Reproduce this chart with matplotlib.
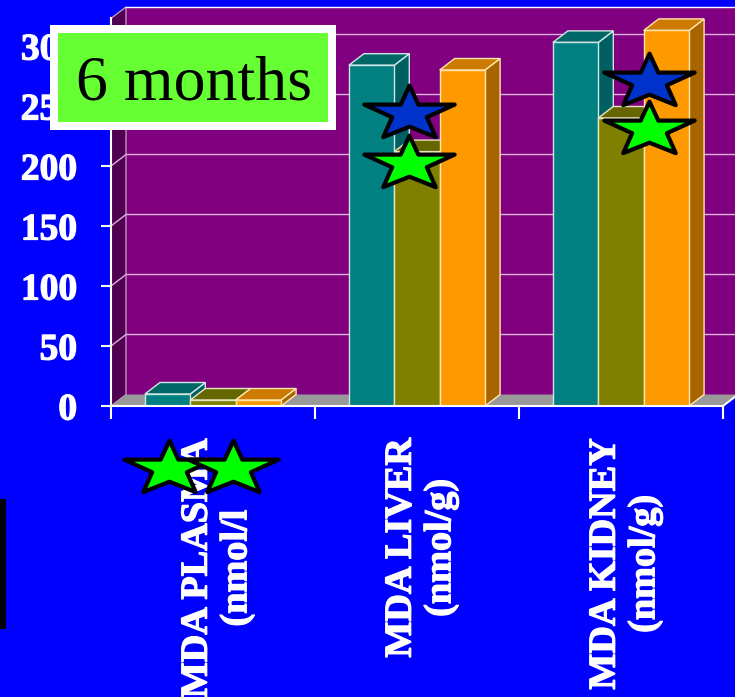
import matplotlib
matplotlib.use('Agg')
import matplotlib.pyplot as plt
import matplotlib.patheffects as pe
from matplotlib.markers import MarkerStyle
from matplotlib.patches import Polygon, Rectangle
from matplotlib.path import Path

categories = ['MDA PLASMA\n(nmol/l', 'MDA LIVER\n(nmol/g)', 'MDA KIDNEY\n(nmol/g)']
y_ticks = [0, 50, 100, 150, 200, 250, 300]

teal_values = [10, 284, 303]
olive_values = [5, 212, 240]
orange_values = [5, 280, 313]

green_star_x = [-0.216, 0.098, 0.96, 2.137]
green_star_y = [-51, -51, 203, 232]
blue_star_x = [0.96, 2.137]
blue_star_y = [245, 272]

BLUE = '#0000ff'
GRID = '#d9b3d9'
BAR_W = 0.2225
DEPTH_X = 15 / 204
DEPTH_Y = 11.5 / 1.2
Y_MAX = 323

# front colour, top colour, side colour, edge colour
series = [
	(teal_values, '#008080', '#006666', '#005f60', '#d0e6e6'),
	(olive_values, '#808000', '#666600', '#666600', '#e6e6c0'),
	(orange_values, '#ff9900', '#cc7a00', '#a86400', '#ffe6b0'),
]

plt.rcParams['font.family'] = ['Liberation Serif', 'DejaVu Serif']
heavy = [pe.withStroke(linewidth=0.9, foreground='white')]

fig = plt.figure(figsize=(7.35, 6.97), dpi=100, facecolor=BLUE)
ax = fig.add_axes([111 / 735, (697 - 406) / 697, 612 / 735, Y_MAX * 1.2 / 697])
ax.set_xlim(-0.5, 2.5)
ax.set_ylim(0, Y_MAX)
ax.patch.set_alpha(0)

# back wall, side wall and floor of the box
x0, x1 = -0.5, 2.5
ax.add_patch(Polygon([(x0 + DEPTH_X, DEPTH_Y), (x1 + DEPTH_X, DEPTH_Y), (x1 + DEPTH_X, Y_MAX + DEPTH_Y),
	(x0 + DEPTH_X, Y_MAX + DEPTH_Y)], fc='#800080', ec='none', clip_on=False, zorder=1))
ax.add_patch(Polygon([(x0, 0), (x0 + DEPTH_X, DEPTH_Y), (x0 + DEPTH_X, Y_MAX + DEPTH_Y), (x0, Y_MAX)],
	fc='#500050', ec=GRID, lw=0.8, clip_on=False, zorder=1))
ax.add_patch(Polygon([(x0, 0), (x1, 0), (x1 + DEPTH_X, DEPTH_Y), (x0 + DEPTH_X, DEPTH_Y)],
	fc='#999999', ec='none', clip_on=False, zorder=1))
ax.plot([x0 + DEPTH_X, x1 + DEPTH_X], [Y_MAX + DEPTH_Y] * 2, color='white', lw=1, clip_on=False, zorder=1.2)
ax.plot([x1, x1 + DEPTH_X], [0, DEPTH_Y], color='white', lw=1.4, clip_on=False, zorder=1.2)

for tick in y_ticks[1:]:
	ax.plot([x0, x0 + DEPTH_X, x1 + DEPTH_X], [tick, tick + DEPTH_Y, tick + DEPTH_Y],
		color=GRID, lw=1, clip_on=False, zorder=1.2)

# each bar is front face plus top and side, left to right
z = 2
for group in range(len(categories)):
	for n, (values, front, top, side, edge) in enumerate(series):
		v = values[group]
		left = group + (n - 1.5) * BAR_W
		right = left + BAR_W
		ax.add_patch(Polygon([(right, 0), (right + DEPTH_X, DEPTH_Y), (right + DEPTH_X, v + DEPTH_Y), (right, v)],
			fc=side, ec=edge, lw=1, clip_on=False, zorder=z))
		ax.add_patch(Polygon([(left, v), (right, v), (right + DEPTH_X, v + DEPTH_Y), (left + DEPTH_X, v + DEPTH_Y)],
			fc=top, ec=edge, lw=1, clip_on=False, zorder=z))
		ax.bar(left, v, BAR_W, align='edge', color=front, edgecolor=edge, linewidth=1, zorder=z + 0.1)
		z += 1

# squashed five point star used for the significance marks
star_path = Path([(0, 85), (28, 25), (143, 25), (55, -15), (83, -78), (0, -45), (-83, -78), (-55, -15),
	(-143, 25), (-28, 25), (0, 85)], closed=True)
star = MarkerStyle(star_path, joinstyle='miter')
ax.plot(blue_star_x, blue_star_y, ls='none', marker=star, ms=65, mfc='#0033cc', mec='black', mew=3,
	clip_on=False, zorder=30)
ax.plot(green_star_x, green_star_y, ls='none', marker=star, ms=65, mfc='#00ff00', mec='black', mew=3,
	clip_on=False, zorder=31)

for name in ['top', 'right']:
	ax.spines[name].set_visible(False)
for name in ['left', 'bottom']:
	ax.spines[name].set_color('white')
	ax.spines[name].set_linewidth(1.5)
	ax.spines[name].set_zorder(25)

ax.set_yticks(y_ticks)
ax.set_yticklabels([str(t) for t in y_ticks], fontsize=27, fontweight='bold', color='white', path_effects=heavy)
ax.tick_params(axis='y', colors='white', length=7.5, width=1.5, pad=17)

# ticks sit between the groups, labels on the groups
ax.set_xticks([-0.5, 0.5, 1.5, 2.5])
ax.set_xticklabels([])
ax.tick_params(axis='x', which='major', colors='white', length=9.5, width=1.5)
ax.set_xticks([0.02, 1.02, 2.02], minor=True)
ax.set_xticklabels(categories, minor=True, rotation=90, fontsize=27.5, fontweight='bold', color='white',
	ha='center', va='top', multialignment='center', linespacing=1.17, path_effects=heavy)
ax.tick_params(axis='x', which='minor', length=0, pad=23)

# time point box
fig.add_artist(Rectangle((50 / 735, 1 - 130 / 697), 286 / 735, 105 / 697, transform=fig.transFigure,
	fc='white', ec='none', zorder=5))
fig.add_artist(Rectangle((58 / 735, 1 - 122 / 697), 270 / 735, 89 / 697, transform=fig.transFigure,
	fc='#66ff33', ec='none', zorder=6))
fig.text(194 / 735, 1 - 84 / 697, '6 months', fontsize=46, color='black', ha='center', va='center', zorder=7)

# dark strip on the left edge
fig.add_artist(Rectangle((0, 1 - 629 / 697), 6 / 735, 130 / 697, transform=fig.transFigure,
	fc='black', ec='none', zorder=5))

fig.savefig('out.png', dpi=100, facecolor=BLUE)
